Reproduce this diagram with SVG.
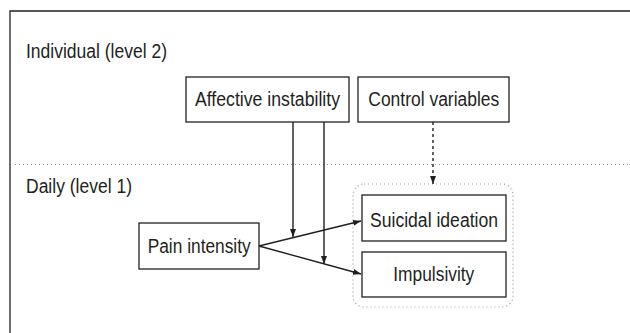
<svg xmlns="http://www.w3.org/2000/svg" width="630" height="333" viewBox="0 0 630 333">
<style>
text{font-family:"Liberation Sans",Arial,sans-serif;font-size:20px;fill:#231f20}
.box{fill:#fff;stroke:#231f20;stroke-width:1.3}
.edge{stroke:#231f20;stroke-width:1.4;fill:none}
.dot{stroke:#9a9a9a;stroke-width:1.2;fill:none;stroke-dasharray:1 3}
.mid{text-anchor:middle}
</style>
<defs>
<marker id="ah" viewBox="0 0 8 6" refX="8" refY="3" markerWidth="8" markerHeight="6" markerUnits="userSpaceOnUse" orient="auto">
<path d="M0,0 L8,3 L0,6 Z" fill="#231f20"/>
</marker>
</defs>
<rect x="0" y="0" width="630" height="333" fill="#fff"/>
<path d="M10,333 V11 H630" fill="none" stroke="#231f20" stroke-width="1.3"/>
<line class="dot" x1="15" y1="164.5" x2="630" y2="164.5"/>
<text x="26" y="57.5" textLength="141" lengthAdjust="spacingAndGlyphs">Individual (level 2)</text>
<text x="26" y="192.5" textLength="106" lengthAdjust="spacingAndGlyphs">Daily (level 1)</text>
<rect class="dot" x="353" y="184" width="160" height="123" rx="11"/>
<g id="affective">
<rect class="box" x="186" y="77" width="163" height="45"/>
<text x="195" y="105.5" textLength="145" lengthAdjust="spacingAndGlyphs">Affective instability</text>
</g>
<g id="control">
<rect class="box" x="358" y="77" width="151" height="45"/>
<text x="368.3" y="105.5" textLength="131" lengthAdjust="spacingAndGlyphs">Control variables</text>
</g>
<g id="pain">
<rect class="box" x="139" y="223" width="120" height="46"/>
<text x="147.7" y="252.5" textLength="103" lengthAdjust="spacingAndGlyphs">Pain intensity</text>
</g>
<g id="suicidal">
<rect class="box" x="362" y="195" width="144" height="46"/>
<text x="370" y="226.8" textLength="128" lengthAdjust="spacingAndGlyphs">Suicidal ideation</text>
</g>
<g id="impulsivity">
<rect class="box" x="362" y="252" width="144" height="45"/>
<text x="393.3" y="280.5" textLength="81" lengthAdjust="spacingAndGlyphs">Impulsivity</text>
</g>
<g id="connectors">
<line class="edge" x1="259" y1="246" x2="361" y2="221" marker-end="url(#ah)"/>
<line class="edge" x1="259" y1="246" x2="361" y2="274" marker-end="url(#ah)"/>
<line class="edge" x1="293" y1="122" x2="293" y2="237" marker-end="url(#ah)"/>
<line class="edge" x1="324" y1="122" x2="324" y2="264" marker-end="url(#ah)"/>
<line class="edge" x1="433" y1="122" x2="433" y2="184" stroke-dasharray="3 3" marker-end="url(#ah)"/>
</g>
</svg>
